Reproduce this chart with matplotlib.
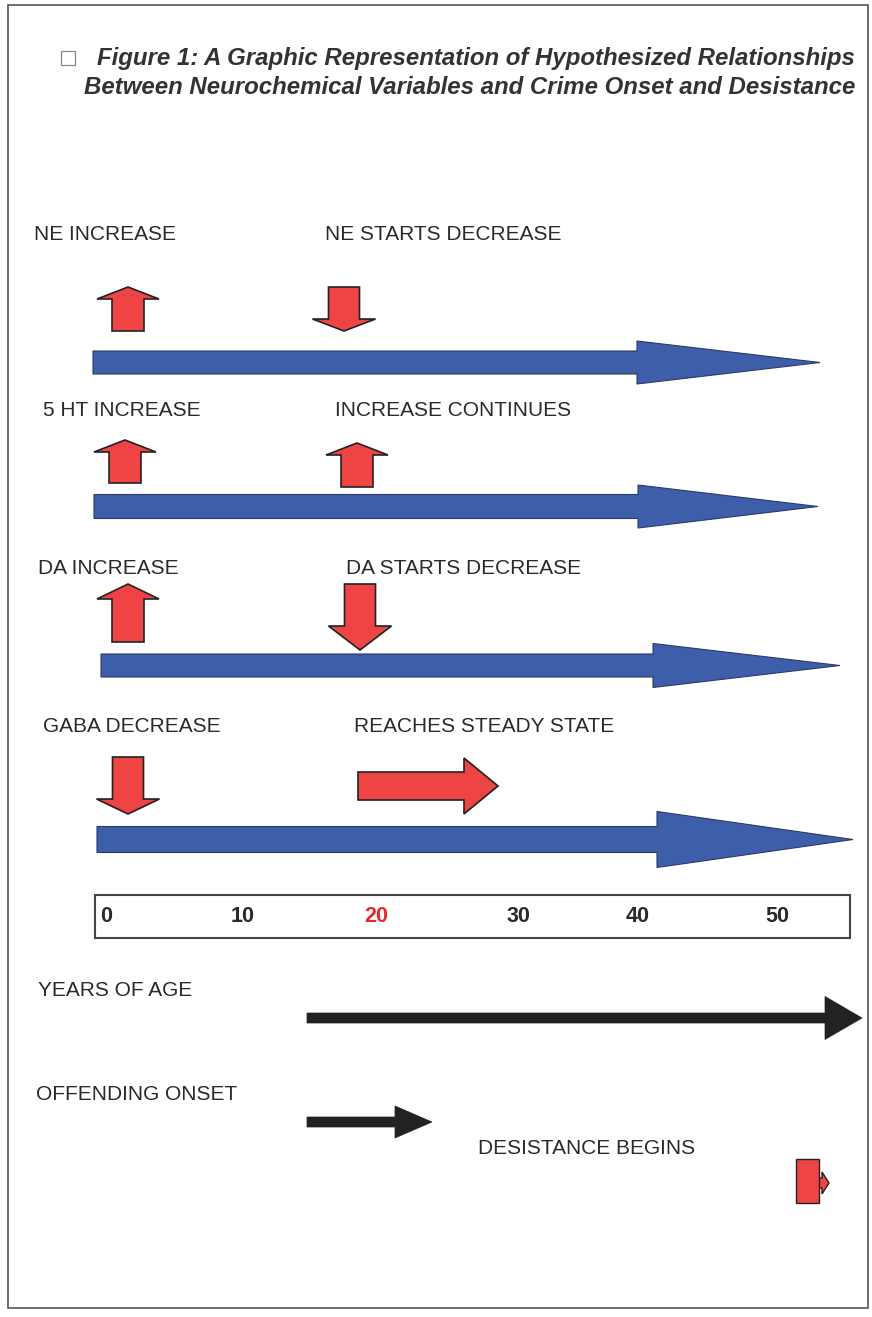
import matplotlib
matplotlib.use("Agg")
import matplotlib.pyplot as plt
from matplotlib.patches import FancyArrow, Rectangle

# text content
title_lines = ["Figure 1: A Graphic Representation of Hypothesized Relationships",
               "Between Neurochemical Variables and Crime Onset and Desistance"]
row_left_labels = ["NE INCREASE", "5 HT INCREASE", "DA INCREASE", "GABA DECREASE"]
row_right_labels = ["NE STARTS DECREASE", "INCREASE CONTINUES", "DA STARTS DECREASE", "REACHES STEADY STATE"]
first_marker = ["up", "up", "up", "down"]
second_marker = ["down", "up", "down", "right"]
age_ticks = [0, 10, 20, 30, 40, 50]
highlight_age = 20
bottom_labels = ["YEARS OF AGE", "OFFENDING ONSET", "DESISTANCE BEGINS"]

# layout (pixels, y downwards)
label_y = [235, 411, 569, 727]
left_label_x = [34, 43, 38, 43]
right_label_x = [325, 335, 346, 354]
# blue arrows: x start, y centre, shaft width, head base x, head height, tip x
blue_x0 = [93, 94, 101, 97]
blue_yc = [362.5, 506.5, 665.5, 839.5]
blue_w = [23, 24, 23, 26]
blue_head_x = [637, 638, 653, 657]
blue_head_h = [43, 43, 44, 56]
blue_tip = [820, 818, 840, 853]
# red markers: centre x, top y, bottom y (vertical); head length
first_cx = [128, 125, 128, 128]
first_top = [287, 440, 584, 757]
first_bot = [331, 483, 642, 814]
first_head = [12, 12, 15, 15]
second_cx = [344, 357, 360, 358]
second_top = [287, 443, 584, 786]
second_bot = [331, 487, 650, 498]
second_head = [12, 12, 24, 34]

tick_x = [106, 243, 376, 518, 638, 777]

RED = "#ee4444"
BLUE = "#3d5ea9"
DARK = "#222222"


def red_marker(ax, direction, cx, a, b, head):
    if direction == "up":
        arr = FancyArrow(cx, b, 0, a - b, width=32, head_width=62, head_length=head,
                         length_includes_head=True)
    elif direction == "down":
        arr = FancyArrow(cx, a, 0, b - a, width=31, head_width=63, head_length=head,
                         length_includes_head=True)
    else:
        # horizontal: cx is x start, a is y centre, b is tip x
        arr = FancyArrow(cx, a, b - cx, 0, width=28, head_width=56, head_length=head,
                         length_includes_head=True)
    arr.set_facecolor(RED)
    arr.set_edgecolor(DARK)
    arr.set_linewidth(1.2)
    ax.add_patch(arr)


fig = plt.figure(figsize=(8.72, 13.17), dpi=100)
ax = fig.add_axes([0, 0, 1, 1])
ax.set_xlim(0, 872)
ax.set_ylim(1317, 0)
ax.axis("off")

# outer frame
ax.add_patch(Rectangle((8, 5), 860, 1303, fill=False, edgecolor="#555555", linewidth=1.2))

# title
ax.add_patch(Rectangle((61, 51), 14, 14, fill=False, edgecolor="#888888", linewidth=0.9))
title_font = dict(family=["Liberation Sans Narrow", "Liberation Sans"], fontweight="bold",
                  fontstyle="italic", fontsize=17.3, color="#333333")
ax.text(855, 58, title_lines[0], ha="right", va="center", **title_font)
ax.text(855, 88, title_lines[1], ha="right", va="center", **title_font)

label_font = dict(family="Liberation Sans", fontsize=15, color="#2a2a2a")

for i in range(4):
    ax.text(left_label_x[i], label_y[i], row_left_labels[i], ha="left", va="center", **label_font)
    ax.text(right_label_x[i], label_y[i], row_right_labels[i], ha="left", va="center", **label_font)

    blue = FancyArrow(blue_x0[i], blue_yc[i], blue_tip[i] - blue_x0[i], 0,
                      width=blue_w[i], head_width=blue_head_h[i],
                      head_length=blue_tip[i] - blue_head_x[i],
                      length_includes_head=True, facecolor=BLUE,
                      edgecolor="#2b3a66", linewidth=0.8)
    ax.add_patch(blue)

    red_marker(ax, first_marker[i], first_cx[i], first_top[i], first_bot[i], first_head[i])
    red_marker(ax, second_marker[i], second_cx[i], second_top[i], second_bot[i], second_head[i])

# age scale box
ax.add_patch(Rectangle((95, 895), 755, 43, fill=False, edgecolor="#444444", linewidth=1.5))
for x, age in zip(tick_x, age_ticks):
    c = "#e8262c" if age == highlight_age else "#2a2a2a"
    ax.text(x, 917, str(age), ha="center", va="center", family="Liberation Sans",
            fontweight="bold", fontsize=15.5, color=c)

# bottom labels and black arrows
ax.text(38, 990, bottom_labels[0], ha="left", va="center", **label_font)
ax.text(36, 1094, bottom_labels[1], ha="left", va="center", **label_font)
ax.text(478, 1149, bottom_labels[2], ha="left", va="center", **label_font)

ax.add_patch(FancyArrow(307, 1018, 862 - 307, 0, width=10, head_width=43, head_length=37,
                        length_includes_head=True, facecolor=DARK, edgecolor=DARK, linewidth=0.5))
ax.add_patch(FancyArrow(307, 1122, 432 - 307, 0, width=10, head_width=32, head_length=37,
                        length_includes_head=True, facecolor=DARK, edgecolor=DARK, linewidth=0.5))

# small desistance marker
ax.add_patch(FancyArrow(815, 1183, 14, 0, width=10, head_width=22, head_length=7,
                        length_includes_head=True, facecolor=RED, edgecolor=DARK, linewidth=1.0))
ax.add_patch(Rectangle((796, 1159), 23, 44, facecolor=RED, edgecolor=DARK, linewidth=1.0))

fig.savefig("out.png", dpi=100)
